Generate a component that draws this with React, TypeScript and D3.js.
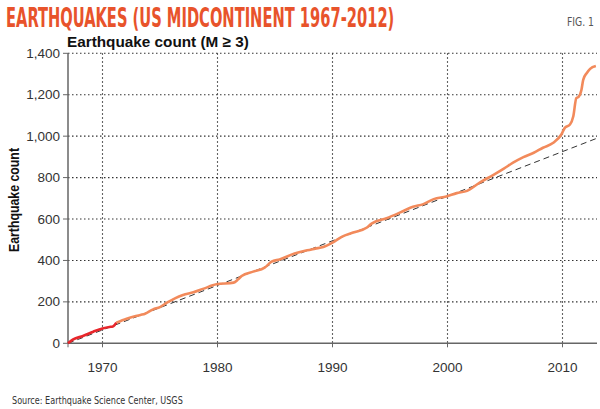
import React, { useLayoutEffect, useRef, useState } from 'react'
import * as d3 from 'd3'

// cumulative counts
const redYears = [1967, 1967.45, 1968.3, 1969.2, 1970, 1970.6, 1970.9, 1971.2]
const redCounts = [0, 19, 35, 56, 72, 79, 81, 100]

const orangeYears = [
  1971.2, 1972.1, 1973.3, 1973.7, 1974.4, 1975, 1975.6, 1976.3, 1977, 1977.9,
  1978.8, 1979.9, 1981.4, 1981.8, 1982.1, 1983.1, 1984.1, 1984.7, 1985.4, 1986.7,
  1987.8, 1988.5, 1989.2, 1990, 1990.8, 1991.8, 1993, 1993.4, 1994.7, 1995.9,
  1997, 1997.9, 1998.8, 1999.9, 2000.8, 2001.7, 2002.8, 2004, 2004.9, 2005.7,
  2006.6, 2007.5, 2008.3, 2009.2, 2009.9, 2010.2, 2010.65, 2010.94, 2011.2, 2011.4,
  2011.65, 2011.8, 2012.1, 2012.4, 2012.9,
]
const orangeCounts = [
  100, 119, 137, 143, 164, 175, 196, 217, 233, 246,
  264, 285, 293, 309, 325, 346, 365, 394, 405, 433,
  449, 457, 465, 486, 514, 535, 559, 578, 604, 632,
  659, 672, 696, 709, 725, 736, 776, 813, 843, 872,
  899, 920, 944, 968, 1008, 1040, 1056, 1096, 1184, 1190,
  1224, 1272, 1304, 1325, 1339,
]

const trendYears = [1967, 2013]
const trendCounts = [0, 990]

const yTicks = [0, 200, 400, 600, 800, 1000, 1200, 1400]
const xTicks = [1970, 1980, 1990, 2000, 2010]

const W = 600
const H = 409
const left = 68
const right = 597
const top = 53.3
const bottom = 343.3

const font = 'Liberation Sans, Arial, sans-serif'
const narrow = 'Liberation Sans Narrow, DejaVu Sans Condensed, Arial Narrow, sans-serif'

// text sized to a given width, stretched vertically to a given cap height (condensed look)
function FitText(props: {
  x: number, y: number, width: number, size: number, cap?: number,
  family: string, weight?: string, fill: string, children: string
}) {
  const ref = useRef<SVGTextElement>(null)
  const [size, setSize] = useState(props.size)
  useLayoutEffect(() => {
    if (!ref.current) return
    const len = ref.current.getComputedTextLength()
    if (len > 0 && Math.abs(len - props.width) > 0.5) setSize(s => s * props.width / len)
  }, [size])
  const sy = props.cap ? props.cap / (0.73 * size) : 1
  return (
    <text ref={ref} transform={`translate(${props.x},${props.y}) scale(1,${sy})`}
      fontFamily={props.family} fontWeight={props.weight} fontSize={size}
      fill={props.fill}>{props.children}</text>
  )
}

export default function App() {
  const x = d3.scaleLinear().domain([1967, 2013]).range([left, right])
  const y = d3.scaleLinear().domain([0, 1400]).range([bottom, top])

  const line = d3.line<[number, number]>()
    .x(d => x(d[0]))
    .y(d => y(d[1]))
    .curve(d3.curveMonotoneX)

  const red = line(redYears.map((v, i) => [v, redCounts[i]] as [number, number]))
  const orange = line(orangeYears.map((v, i) => [v, orangeCounts[i]] as [number, number]))
  const trend = d3.line<[number, number]>().x(d => x(d[0])).y(d => y(d[1]))(
    trendYears.map((v, i) => [v, trendCounts[i]] as [number, number]))

  const fmt = d3.format(',')

  return (
    <svg width={W} height={H} style={{ position: 'fixed', left: 0, top: 0, background: '#fff' }}>
      <FitText x={6} y={27} width={388} size={22} cap={19} family={narrow} weight="bold"
        fill="#e8532b">EARTHQUAKES (US MIDCONTINENT 1967-2012)</FitText>
      <FitText x={567} y={26} width={27} size={11} cap={9} family={narrow}
        fill="#555">FIG. 1</FitText>
      <FitText x={67} y={47} width={182} size={16} family={font} weight="bold"
        fill="#111">Earthquake count (M ≥ 3)</FitText>
      <text transform={`translate(19,200) rotate(-90)`} textAnchor="middle" fontFamily={font}
        fontWeight="bold" fontSize={14} fill="#111" textLength={104}
        lengthAdjust="spacingAndGlyphs">Earthquake count</text>

      {/* grid */}
      {yTicks.filter(t => t > 0).map(t => (
        <line key={'gy' + t} x1={left} x2={right} y1={y(t)} y2={y(t)} stroke="#333"
          strokeWidth={1.1} strokeDasharray="1.5,2.5" />
      ))}
      {xTicks.map(t => (
        <line key={'gx' + t} x1={x(t)} x2={x(t)} y1={top} y2={bottom} stroke="#333"
          strokeWidth={1.1} strokeDasharray="1.5,2.5" />
      ))}

      {/* axes */}
      <line x1={left} x2={left} y1={top} y2={bottom} stroke="#666" strokeWidth={1.5} />
      <line x1={left} x2={right} y1={bottom} y2={bottom} stroke="#666" strokeWidth={1.5} />
      {yTicks.map(t => (
        <g key={'ty' + t}>
          <line x1={left - 5} x2={left} y1={y(t)} y2={y(t)} stroke="#666" strokeWidth={1} />
          <text x={60} y={y(t) + 4.6} textAnchor="end" fontFamily={font} fontSize={13.5}
            fill="#333">{fmt(t)}</text>
        </g>
      ))}
      <line x1={left} x2={left} y1={bottom} y2={bottom + 4} stroke="#666" strokeWidth={1} />
      {xTicks.map(t => (
        <g key={'tx' + t}>
          <line x1={x(t)} x2={x(t)} y1={bottom} y2={bottom + 4} stroke="#666" strokeWidth={1} />
          <text x={x(t)} y={372} textAnchor="middle" fontFamily={font} fontSize={13.5}
            fill="#333">{t}</text>
        </g>
      ))}

      {/* trend */}
      <path d={trend ?? ''} fill="none" stroke="#333" strokeWidth={1} strokeDasharray="6,4" />
      {/* series */}
      <path d={orange ?? ''} fill="none" stroke="#f28a5b" strokeWidth={2.6} strokeLinejoin="round" />
      <path d={red ?? ''} fill="none" stroke="#e8262b" strokeWidth={2.6} strokeLinejoin="round" />

      <FitText x={12} y={404} width={171} size={10} cap={8} family={narrow}
        fill="#333">Source: Earthquake Science Center, USGS</FitText>
    </svg>
  )
}
